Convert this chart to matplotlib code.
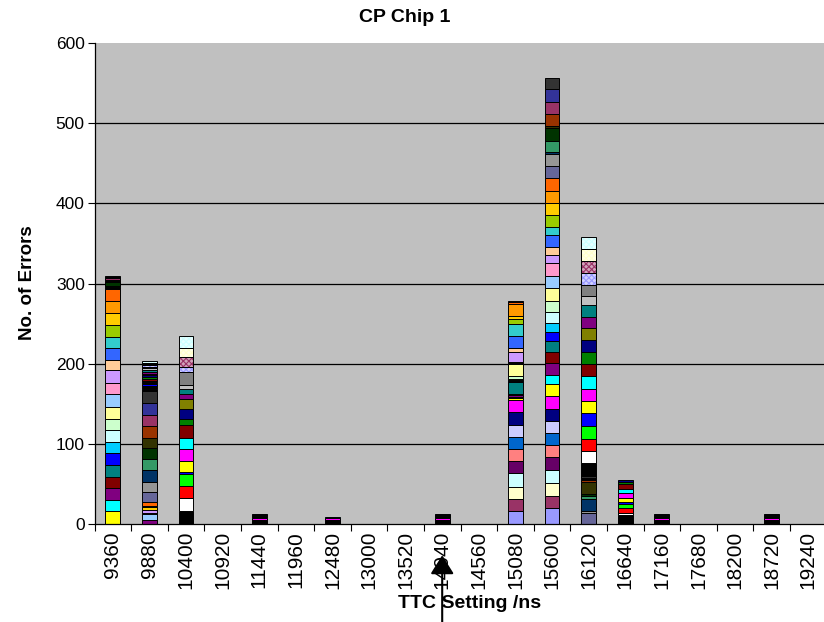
import matplotlib
matplotlib.use("Agg")
import matplotlib.pyplot as plt
from matplotlib.colors import to_rgb

plt.rcParams["font.family"] = ["Liberation Sans", "DejaVu Sans"]
plt.rcParams["hatch.linewidth"] = 0.8

# TTC settings (ns) along the x axis
settings = ["9360", "9880", "10400", "10920", "11440", "11960", "12480", "13000",
            "13520", "14040", "14560", "15080", "15600", "16120", "16640", "17160",
            "17680", "18200", "18720", "19240"]

# Fill colours of the data series, in series order; series 56+ reuse them with a pattern
series_colors = ["#9999FF", "#993366", "#FFFFCC", "#CCFFFF", "#660066", "#FF8080", "#0066CC", "#CCCCFF",
                 "#000080", "#FF00FF", "#FFFF00", "#00FFFF", "#800080", "#800000", "#008080", "#0000FF",
                 "#00CCFF", "#CCFFFF", "#CCFFCC", "#FFFF99", "#99CCFF", "#FF99CC", "#CC99FF", "#FFCC99",
                 "#3366FF", "#33CCCC", "#99CC00", "#FFCC00", "#FF9900", "#FF6600", "#666699", "#969696",
                 "#003366", "#339966", "#003300", "#333300", "#993300", "#993366", "#333399", "#333333",
                 "#000000", "#FFFFFF", "#FF0000", "#00FF00", "#0000FF", "#FFFF00", "#FF00FF", "#00FFFF",
                 "#800000", "#008000", "#000080", "#808000", "#800080", "#008080", "#C0C0C0", "#808080"]

# Errors per series at each setting, listed from the first non-empty series upward
errors_9360 = [16, 14, 15, 14, 14, 15, 14, 15, 14, 15, 16, 14, 16, 12, 16, 13, 15, 15, 15, 15,
               1, 1, 1, 1, 5, 1, 1, 3, 1, 1]
errors_9880 = [5, 0, 0, 0, 0, 0, 0, 0, 8, 1, 3, 0, 0, 0, 0, 4, 2, 5,
               12, 13, 14, 14, 14, 12, 15, 14, 15, 15,
               3, 1, 1, 1, 3, 1, 1, 2, 2, 2, 3, 1, 2, 3, 2, 2, 2, 2, 1, 2]
errors_10400 = [16, 16, 15, 15, 3, 13, 16, 13, 17, 7, 12, 13, 6, 6, 6, 15, 7, 12, 11, 15]
errors_11440 = [5, 0, 0, 0, 0, 0, 3, 1, 1, 1, 1]
errors_12480 = [5, 0, 0, 0, 0, 0, 3, 1]
errors_14040 = [5, 0, 0, 0, 0, 0, 3, 1, 1, 1, 1]
errors_15080 = [16, 15, 15, 17, 15, 15, 16, 15, 16, 15, 2, 2, 2, 1, 15, 2, 1, 1, 4, 14,
                2, 1, 12, 6, 15, 15, 6, 3, 15, 3, 1]
errors_15600 = [20, 15, 16, 16, 16, 15, 15, 15, 16, 16, 15, 11, 15, 13, 14, 12, 11, 14, 13, 16,
                15, 16, 10, 11, 15, 10, 15, 15, 15, 15, 15, 15, 3, 14, 16, 3, 14, 16, 15, 14]
errors_16120 = [14, 2, 15, 4, 2, 15, 3, 1, 1, 3, 16, 15, 15, 16, 16, 16, 15, 15, 15, 15,
                15, 15, 14, 15, 12, 13, 15, 15, 15, 15]
errors_16640 = [11, 3, 6, 5, 2, 5, 7, 5, 6, 3, 2]
errors_17160 = [5, 0, 0, 0, 0, 0, 3, 1, 1, 1, 1]
errors_18720 = [5, 0, 0, 0, 0, 0, 3, 1, 1, 1, 1]

# setting -> (index of first listed series, errors)
stacks = {
    "9360": (10, errors_9360),
    "9880": (12, errors_9880),
    "10400": (40, errors_10400),
    "11440": (40, errors_11440),
    "12480": (40, errors_12480),
    "14040": (40, errors_14040),
    "15080": (0, errors_15080),
    "15600": (0, errors_15600),
    "16120": (30, errors_16120),
    "16640": (40, errors_16640),
    "17160": (40, errors_17160),
    "18720": (40, errors_18720),
}


def lighten(color, amount=0.5):
    r, g, b = to_rgb(color)
    return (r + (1 - r) * amount, g + (1 - g) * amount, b + (1 - b) * amount)


W, H = 824, 622
fig = plt.figure(figsize=(W / 100, H / 100), dpi=100)
ax = fig.add_axes([94.5 / W, (H - 524) / H, 732 / W, 481 / H])
ax.set_facecolor("#C0C0C0")

bar_w = 0.4
edge_w = 0.7
for i, name in enumerate(settings):
    if name not in stacks:
        continue
    start, values = stacks[name]
    bottom = 0
    for j, v in enumerate(values):
        if v == 0:
            continue
        s = start + j
        base = series_colors[s % len(series_colors)]
        if s >= len(series_colors):
            ax.bar(i, v, bottom=bottom, width=bar_w, color=lighten(base, 0.55), edgecolor=base,
                   hatch="xxxxxx", linewidth=0, zorder=3)
            ax.bar(i, v, bottom=bottom, width=bar_w, fill=False, edgecolor="black",
                   linewidth=edge_w, zorder=3)
        else:
            ax.bar(i, v, bottom=bottom, width=bar_w, color=base, edgecolor="black",
                   linewidth=edge_w, zorder=3)
        bottom += v

ax.set_xlim(-0.5, len(settings) - 0.5)
ax.set_ylim(0, 600)
ax.set_yticks(range(0, 601, 100))
ax.set_xticks(range(len(settings)))
ax.set_xticklabels(settings, rotation=90, fontsize=15)
ax.set_xticks([k - 0.5 for k in range(len(settings) + 1)], minor=True)
ax.tick_params(axis="x", which="major", length=0, pad=5)
ax.tick_params(axis="x", which="minor", length=5, width=0.8, direction="out", color="black")
ax.tick_params(axis="y", which="major", length=5, width=0.8, direction="out", labelsize=12.5, pad=2)

for yv in range(100, 600, 100):
    ax.axhline(yv, color="black", linewidth=0.9, zorder=1)

for side in ("top", "right"):
    ax.spines[side].set_visible(False)
for side in ("left", "bottom"):
    ax.spines[side].set_color("black")
    ax.spines[side].set_linewidth(0.9)
    ax.spines[side].set_zorder(4)

fig.text(405 / W, 1 - 17 / H, "CP Chip 1", ha="center", va="center", fontsize=14, fontweight="bold")
fig.text(470 / W, 1 - 604 / H, "TTC Setting /ns", ha="center", va="center", fontsize=14, fontweight="bold")
fig.text(28 / W, 1 - 283 / H, "No. of Errors", ha="center", va="center", rotation=90,
         fontsize=13.5, fontweight="bold")

# arrow marking the 14040 ns setting
ax.annotate("", xy=(9, -39), xytext=(9, -125), xycoords="data", textcoords="data",
            annotation_clip=False,
            arrowprops=dict(arrowstyle="-|>,head_length=1.15,head_width=0.72",
                            mutation_scale=10, color="black", linewidth=1.5,
                            shrinkA=0, shrinkB=0), zorder=10)

fig.savefig("out.png", dpi=100)
